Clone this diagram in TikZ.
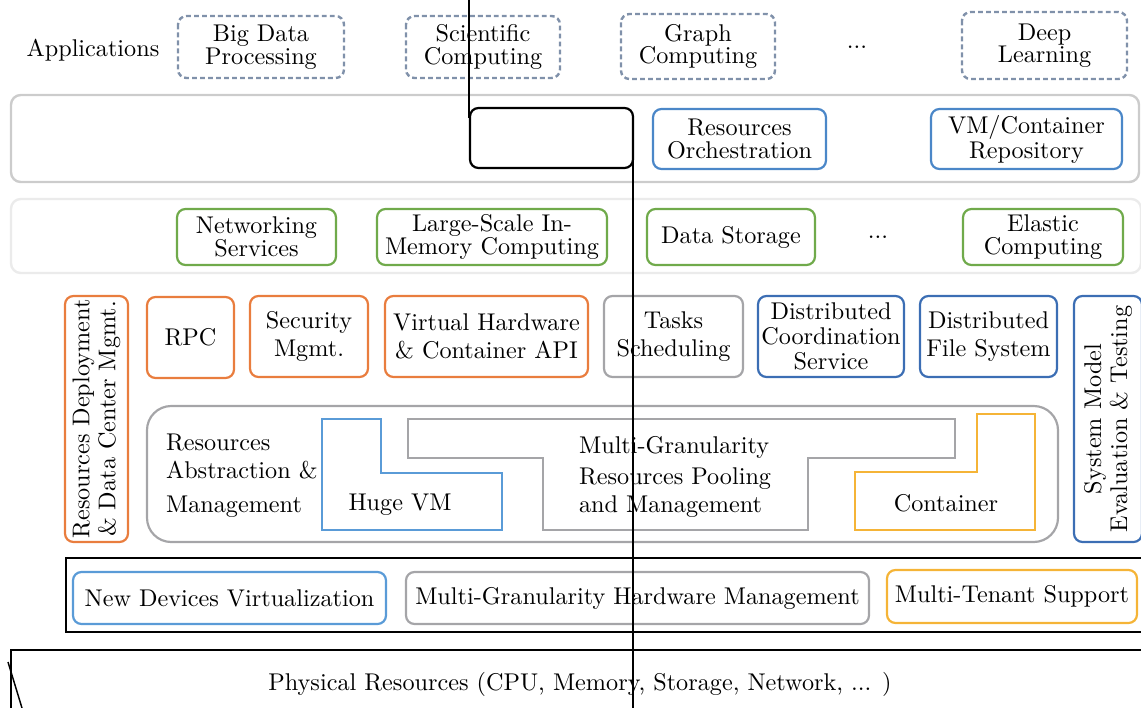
\documentclass[tikz,border=0pt]{standalone}
\usepackage{xcolor}
\usepackage{tikz}
\usetikzlibrary{positioning}

\definecolor{appgray}{RGB}{128,145,170}
\definecolor{lorange}{RGB}{233,125,62}
\definecolor{lgreen}{RGB}{112,170,75}
\definecolor{lblue}{RGB}{75,135,200}
\definecolor{dblue}{RGB}{60,110,180}
\definecolor{sblue}{RGB}{90,155,215}
\definecolor{lgray}{RGB}{165,165,168}
\definecolor{lgold}{RGB}{245,180,55}

\tikzset{
  appbox/.style={draw=appgray, line width=1pt, dash pattern=on 2pt off 1.3pt, rounded corners=3.5pt},
  layerbox/.style={draw=black!20, line width=1pt, rounded corners=4pt},
  orbox/.style={draw=lorange, rounded corners=3.5pt},
  grbox/.style={draw=lgreen, rounded corners=3.5pt},
  blbox/.style={draw=lblue, rounded corners=3.5pt},
  dbbox/.style={draw=dblue, rounded corners=3.5pt},
  sbbox/.style={draw=sblue, rounded corners=3.5pt},
  gybox/.style={draw=lgray, rounded corners=3.5pt},
  gdbox/.style={draw=lgold, rounded corners=3.5pt},
  wide/.style={font=\fontsize{10}{11.6}\selectfont},
}

\begin{document}
\begin{tikzpicture}[x=0.413pt, y=-0.413pt, line width=0.9pt, font=\fontsize{10}{9.3}\selectfont]

  \useasboundingbox (0,0) rectangle (1141,708);
  \clip (0,0) rectangle (1141,708);

  % applications
  \node (apps) at (93,50) {Applications};
  \draw[appbox] (178,16)  rectangle +(166,62) node[midway, align=center] (bigdata) {Big Data\\Processing};
  \draw[appbox] (406,16)  rectangle +(154,62) node[midway, align=center] (scicomp) {Scientific\\Computing};
  \draw[appbox] (621,14)  rectangle +(154,65) node[midway, align=center] (graphcomp) {Graph\\Computing};
  \node (appdots) at (857,47) {...};
  \draw[appbox] (962,12)  rectangle +(165,67) node[midway, align=center] (deeplearn) {Deep\\Learning};

  % orchestration layer
  \draw[layerbox, draw=black!20] (11,95) rectangle (1139,182);
  \draw[rounded corners=3.5pt] (470,108) rectangle (633,168) node[midway] (blank) {};
  \draw[blbox] (653,109) rectangle +(173,60) node[midway, align=center] (orch) {Resources\\Orchestration};
  \draw[blbox] (931,109) rectangle +(191,60) node[midway, align=center] (repo) {VM/Container\\Repository};

  % services layer
  \draw[layerbox, draw=black!8] (11,199) rectangle (1141,273);
  \draw[grbox] (177,209) rectangle +(159,56) node[midway, align=center] (netserv) {Networking\\Services};
  \draw[grbox] (377,209) rectangle +(230,56) node[midway, align=center] (inmem) {Large-Scale In-\\Memory Computing};
  \draw[grbox] (647,209) rectangle +(168,56) node[midway] (storage) {Data Storage};
  \node (servdots) at (878,237) {...};
  \draw[grbox] (963,209) rectangle +(160,56) node[midway, align=center] (elastic) {Elastic\\Computing};

  % middleware
  \draw[orbox] (65,296) rectangle +(63,246) node[midway, rotate=90, align=center, font=\fontsize{10}{10.7}\selectfont] (deploy) {Resources Deployment\\\& Data Center Mgmt.};
  \draw[orbox] (147,297) rectangle +(87,81)  node[midway] (rpc) {RPC};
  \draw[orbox] (250,296) rectangle +(118,81) node[midway, align=center, wide] (security) {Security\\Mgmt.};
  \draw[orbox] (385,296) rectangle +(203,81) node[midway, align=center, wide] (virthw) {Virtual Hardware\\\& Container API};
  \draw[gybox] (604,296) rectangle +(139,81) node[midway, align=center, wide] (tasks) {Tasks\\Scheduling};
  \draw[dbbox] (758,296) rectangle +(146,81) node[midway, align=center, font=\fontsize{10}{10.3}\selectfont] (coord) {Distributed\\Coordination\\Service};
  \draw[dbbox] (920,296) rectangle +(137,81) node[midway, align=center, wide] (dfs) {Distributed\\File System};
  \draw[dbbox] (1074,296) rectangle +(68,246) node[midway, rotate=90, align=center, font=\fontsize{10}{10.7}\selectfont] (sysmodel) {System Model\\Evaluation \& Testing};

  % abstraction
  \draw[gybox, rounded corners=10pt] (147,406) rectangle (1058,542);
  \node[anchor=west, align=left, inner sep=0pt, wide] (abstr) at (165,476) {Resources\\Abstraction \&\\[2.4pt]Management};
  \draw[draw=sblue] (322,419) -- (381,419) -- (381,473) -- (502,473) -- (502,530) -- (322,530) -- cycle;
  \node (hugevm) at (400,505) {Huge VM};
  \draw[draw=lgray] (408,419) -- (955,419) -- (955,458) -- (808,458) -- (808,530) -- (543,530) -- (543,458) -- (408,458) -- cycle;
  \node[anchor=west, align=left, inner sep=0pt, wide] (pooling) at (578,477) {Multi-Granularity\\[0.8pt]Resources Pooling\\and Management};
  \draw[draw=lgold] (977,414) -- (1035,414) -- (1035,530) -- (855,530) -- (855,472) -- (977,472) -- cycle;
  \node (container) at (946,503) {Container};

  % hardware management
  \draw[line width=1.2pt] (66,558) rectangle (1150,632);
  \draw[sbbox] (73,572)  rectangle +(313,52) node[midway] (newdev) {New Devices Virtualization};
  \draw[gybox] (406,572) rectangle +(463,52) node[midway] (hwmgmt) {Multi-Granularity Hardware Management};
  \draw[gdbox] (887,570) rectangle +(250,53) node[midway] (tenant) {Multi-Tenant Support};

  % physical
  \draw[line width=1.2pt] (11,650) rectangle (1150,720);
  \node (phys) at (580,684) {Physical Resources (CPU, Memory, Storage, Network, ... )};

  % stray lines
  \coordinate (lnAtop) at (469,0);
  \coordinate (lnAend) at (469,118);
  \coordinate (lnBtop) at (633,155);
  \coordinate (lnBend) at (633,708);
  \coordinate (lnCtop) at (8,662);
  \coordinate (lnCend) at (22,708);
  \draw[line width=0.6pt] (lnAtop) -- (lnAend);
  \draw[line width=0.6pt] (lnBtop) -- (lnBend);
  \draw[line width=0.6pt] (lnCtop) -- (lnCend);
\end{tikzpicture}
\end{document}
